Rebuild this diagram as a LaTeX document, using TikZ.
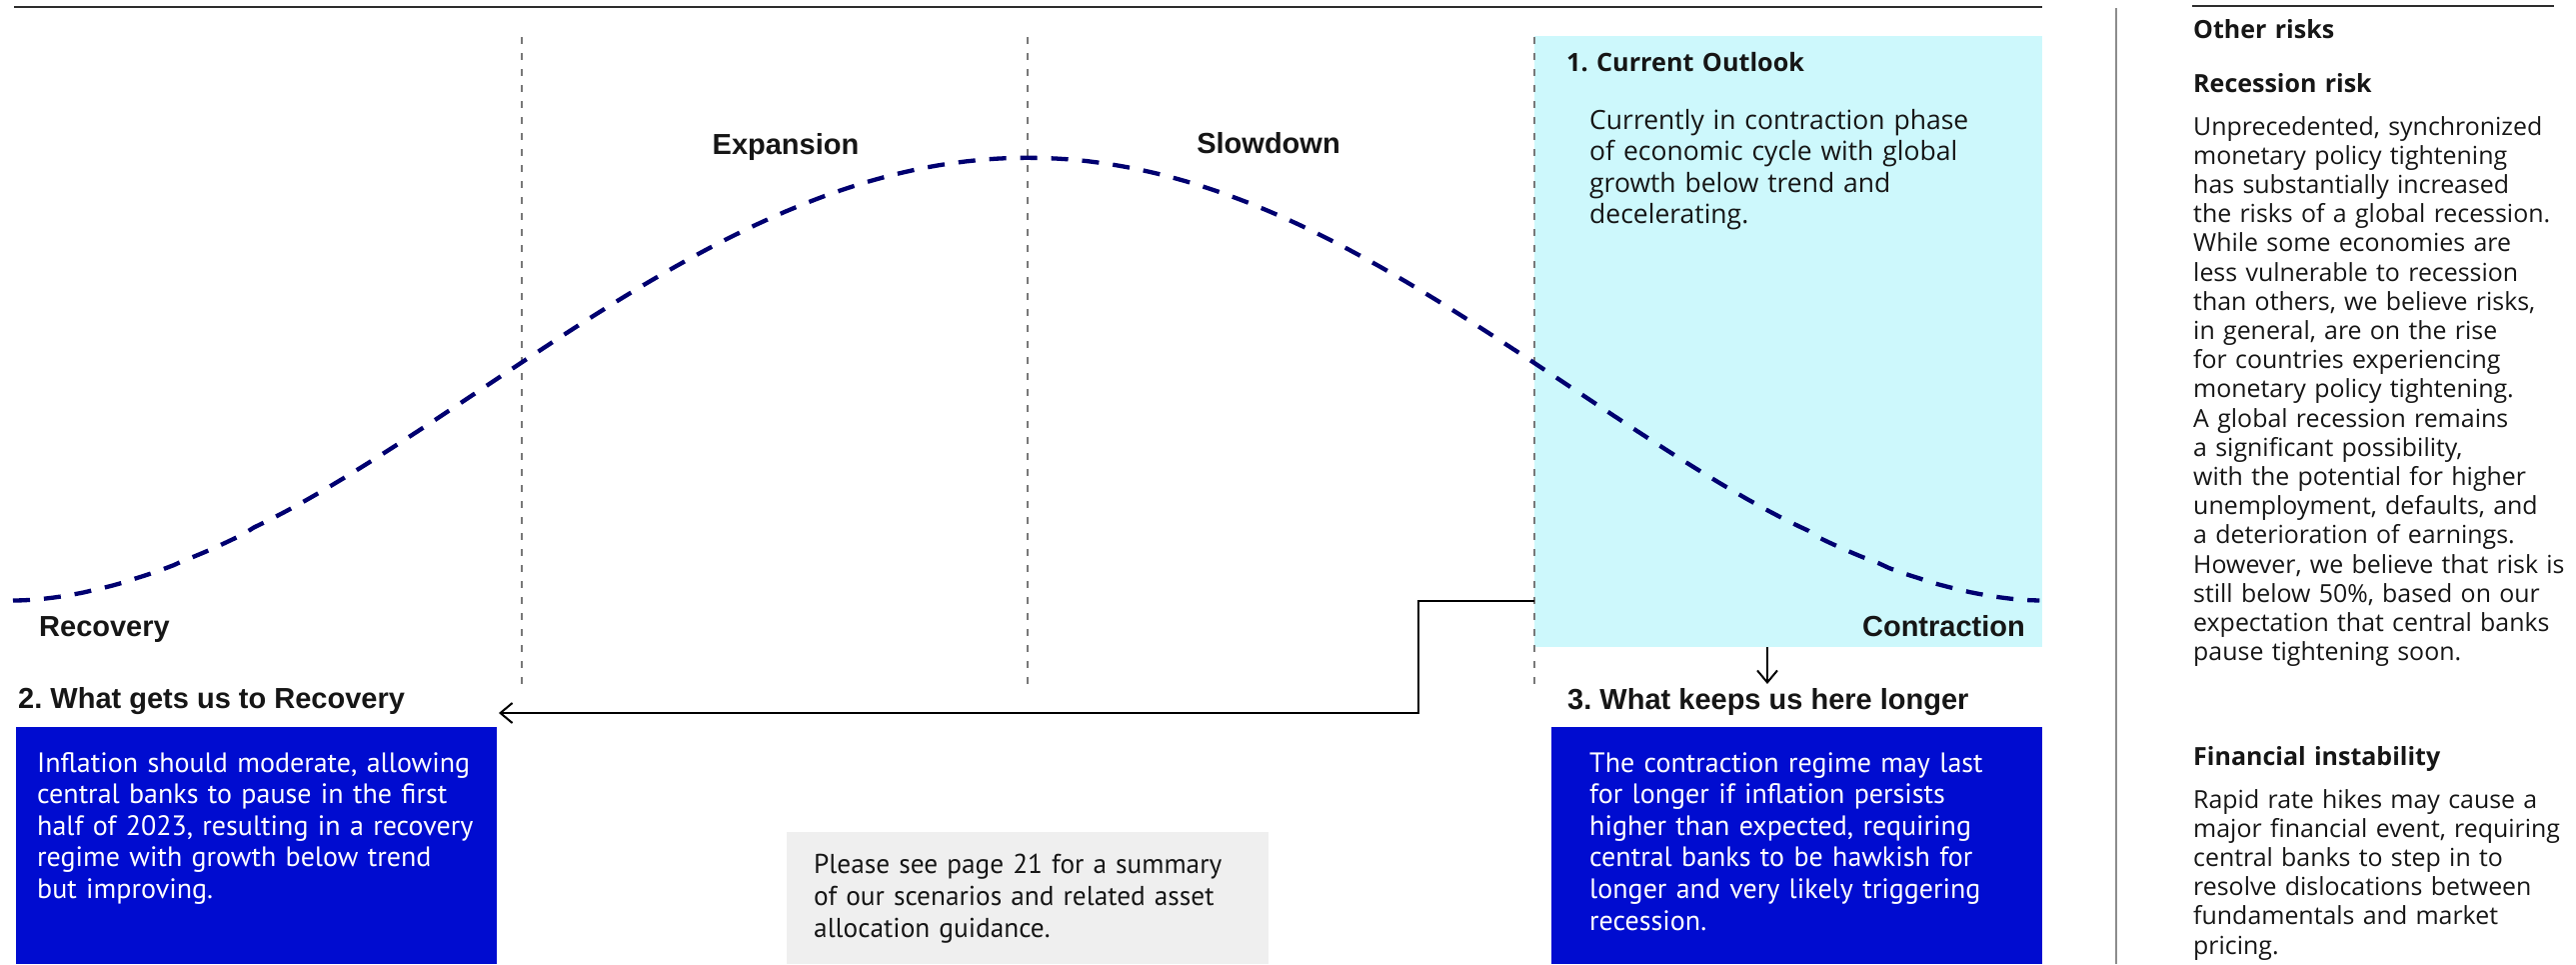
\documentclass[tikz,border=0pt]{standalone}
\usepackage{fontspec}
\setmainfont{Open Sans}
\newfontfamily\gfont{Open Sans}
\newfontfamily\hfont{Liberation Sans}
\newfontfamily\mfont{PT Sans}
\usetikzlibrary{arrows.meta,calc}
\definecolor{navy}{RGB}{0,0,112}
\definecolor{cyanbg}{RGB}{205,248,252}
\definecolor{boxblue}{RGB}{0,12,208}
\definecolor{graybg}{RGB}{239,239,239}
\definecolor{ink}{RGB}{22,22,22}
\definecolor{rulegray}{RGB}{120,120,120}
\frenchspacing
\begin{document}
\begin{tikzpicture}[x=1pt,y=-1pt,
  lbl/.style={font=\hfont\bfseries\fontsize{29}{35}\selectfont, text=ink, inner sep=0},
  para/.style={inner sep=0, anchor=base west, text width=700pt, align=left},
  gtext/.style={para, font=\gfont\fontsize{24.9}{29.2}\selectfont, text=ink},
  ghead/.style={para, font=\gfont\bfseries\fontsize{25}{29}\selectfont, text=ink},
  otext/.style={para, font=\gfont\fontsize{26.5}{31.5}\selectfont, text=ink},
  mtext/.style={para, font=\mfont\fontsize{28}{31.6}\selectfont},
  panel/.style={draw=none, inner sep=0, anchor=north west},
  conn/.style={draw=black, line width=2pt, -{Straight Barb[length=12pt,width=20pt,line width=2pt]}},
  vdash/.style={draw=rulegray, line width=1.5pt, dash pattern=on 7pt off 9pt},
  wave/.style={draw=navy, line width=4.3pt, dash pattern=on 17pt off 14pt},
]
\useasboundingbox (0,0) rectangle (2577,964);

% rules
\draw[line width=2pt, draw=ink!90] (14,7) -- (2043,7);
\draw[line width=2pt, draw=ink!90] (2193,6) -- (2555,6);
\draw[line width=1.5pt, draw=black!45] (2117,8) -- (2117,964);

% panels
\node[panel, fill=cyanbg, minimum width=508pt, minimum height=611pt] (outlook) at (1535,36) {};
\node[panel, fill=boxblue, minimum width=481pt, minimum height=237pt] (recbox) at (16,727) {};
\node[panel, fill=boxblue, minimum width=491pt, minimum height=237pt] (keepbox) at (1552,727) {};
\node[panel, fill=graybg, minimum width=482pt, minimum height=132pt] (seebox) at (787,832) {};

% phase separators
\draw[vdash] (522,37) -- (522,686);
\draw[vdash] (1028,37) -- (1028,686);
\draw[vdash] (1535,37) -- (1535,686);

% cycle curve
\draw[wave] plot[domain=-1:1, samples=203] ({1028+1015*\x},{601-443*((1+cos(180*\x))/2+0.0005)^0.9});

% phase labels
\node[lbl, anchor=base] (expansion) at (786,154) {Expansion};
\node[lbl, anchor=base] (slowdown) at (1269,153) {Slowdown};
\node[lbl, anchor=base west] (recovery) at (39,636) {Recovery};
\node[lbl, anchor=base east] (contraction) at (2026,636) {Contraction};

% 1. current outlook
\node[para, font=\gfont\bfseries\fontsize{25.2}{30}\selectfont, text=ink] (h1) at (1567,71) {1. Current Outlook};
\node[otext] (t1) at (1590,129) {Currently in contraction phase\\of economic cycle with global\\growth below trend and\\decelerating.};

% 2. recovery
\node[lbl, anchor=base west] (h2) at (18,708) {2. What gets us to Recovery};
\node[mtext, text=white] (t2) at (37,772) {Inflation should moderate, allowing\\central banks to pause in the first\\half of 2023, resulting in a recovery\\regime with growth below trend\\but improving.};

% 3. here longer
\node[lbl, anchor=base west] (h3) at (1568,709) {3. What keeps us here longer};
\node[mtext, text=white] (t3) at (1590,772) {The contraction regime may last\\for longer if inflation persists\\higher than expected, requiring\\central banks to be hawkish for\\longer and very likely triggering\\recession.};

% see page box
\node[para, font=\mfont\fontsize{27.3}{32}\selectfont, text=ink] (t4) at (814,873) {Please see page 21 for a summary\\of our scenarios and related asset\\allocation guidance.};

% connectors
\coordinate (turn) at (1535,601);
\coordinate (recend) at (499,713);
\draw[conn] (turn) -| (1419,713) -- (recend);
\coordinate (keepend) at (1768,684);
\draw[conn] (keepend |- outlook.south) -- (keepend);

% right column
\node[ghead] (other) at (2194,38) {Other risks};
\node[ghead] (rech) at (2194,92) {Recession risk};
\node[gtext] (rect) at (2194,135) {Unprecedented, synchronized\\monetary policy tightening\\has substantially increased\\the risks of a global recession.\\While some economies are\\less vulnerable to recession\\than others, we believe risks,\\in general, are on the rise\\for countries experiencing\\monetary policy tightening.\\A global recession remains\\a significant possibility,\\with the potential for higher\\unemployment, defaults, and\\a deterioration of earnings.\\However, we believe that risk is\\still below 50\%, based on our\\expectation that central banks\\pause tightening soon.};
\node[ghead] (finh) at (2194,765) {Financial instability};
\node[gtext] (fint) at (2194,808) {Rapid rate hikes may cause a\\major financial event, requiring\\central banks to step in to\\resolve dislocations between\\fundamentals and market\\pricing.};
\end{tikzpicture}
\end{document}
